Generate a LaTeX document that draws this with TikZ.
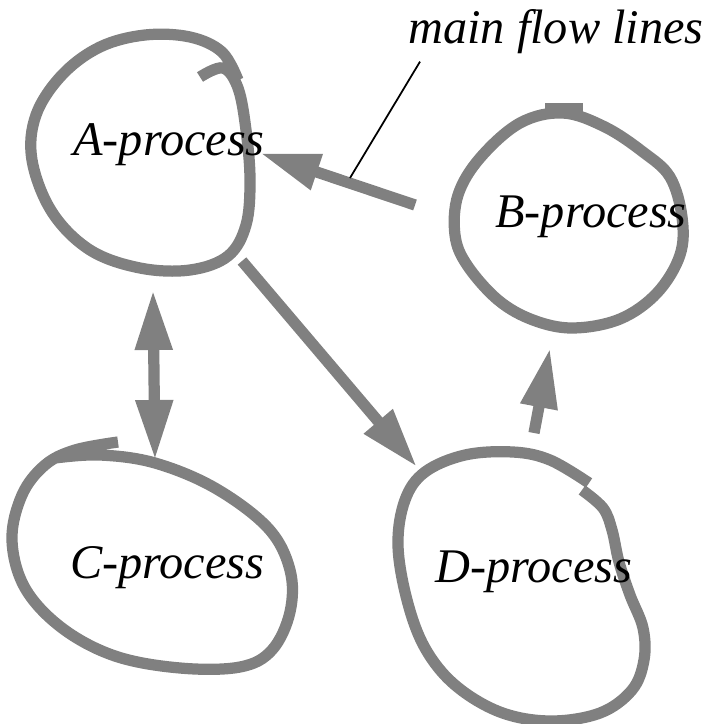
\documentclass[tikz,border=0pt]{standalone}
\usepackage{fontspec}
\setmainfont{Liberation Serif}
\usepackage{xcolor}
\definecolor{flow}{RGB}{128,128,128}
\definecolor{ink}{RGB}{0,0,0}
\usepackage{tikz}
\usetikzlibrary{calc}
\usetikzlibrary{arrows.meta}

\begin{document}
\begin{tikzpicture}[x=0.02cm,y=-0.02cm,
    blob/.style={draw=flow,line width=6.4pt,smooth,tension=0.6},
    flowline/.style={draw=flow,line width=6.4pt,-{Triangle[length=1.2cm,width=0.7cm]}},
    proc/.style={font=\fontsize{27.5}{32}\selectfont\itshape,inner sep=0pt,anchor=base west}]

            \useasboundingbox (0,0) rectangle (706,724);

            % the four processes
            \draw[blob] plot coordinates {(200,77) (223,68) (238,88) (246,130) (250,180) (246,225) (228,256) (190,270) (140,268) (90,250) (52,212) (32,160) (36,115) (62,75) (100,47) (145,35) (190,37) (222,52) (238,80)};
            \draw[blob] plot[smooth cycle] coordinates {(563,113) (520,123) (480,158) (458,195) (455,235) (467,265) (498,300) (533,320) (573,328) (620,319) (657,293) (680,255) (682,217) (670,177) (643,152) (605,127)};
            \draw[draw=flow,line width=6.4pt] (545,109) -- (583,109);
            \draw[blob] plot coordinates {(55,458) (100,455) (155,463) (215,488) (268,528) (290,570) (290,612) (272,650) (240,667) (180,668) (115,656) (62,628) (25,588) (12,540) (22,495) (45,465) (75,450) (118,442)};
            \draw[blob] plot coordinates {(582,490) (603,508) (612,530) (619,562) (630,595) (643,628) (644,660) (632,690) (600,713) (550,721) (500,712) (455,685) (425,648) (407,600) (398,545) (405,500) (425,472) (465,455) (513,452) (550,460) (589,483)};

            \node[proc] (A) at (73,155) {A-process};
            \node[proc] (B) at (495,227) {B-process};
            \node[proc] (C) at (70,578) {C-process};
            \node[proc] (D) at (435,582) {D-process};
            \node[proc] (note) at (408,43) {main flow lines};

            % ends of the flow lines
            \coordinate (BAtail) at (415,205);
            \coordinate (BAtip) at (260,153);
            \coordinate (ACtop) at (153,290);
            \coordinate (ACbot) at (155,460);
            \coordinate (ADtail) at (242,261);
            \coordinate (ADtip) at (417,467);
            \coordinate (DBtail) at (534,433);
            \coordinate (DBtip) at (550,348);
            \coordinate (notefoot) at (350,178);

            \draw[flowline] (BAtail) -- (BAtip);
            \draw[flowline,{Triangle[length=1.2cm,width=0.7cm]}-{Triangle[length=1.2cm,width=0.7cm]}] (ACtop) -- (ACbot);
            \draw[flowline] (ADtail) -- (ADtip);
            \draw[flowline] (DBtail) -- (DBtip);
            \draw[draw=ink,line width=1pt] ($(note.south west)+(12,8)$) -- (notefoot);
        \end{tikzpicture}
\end{document}
